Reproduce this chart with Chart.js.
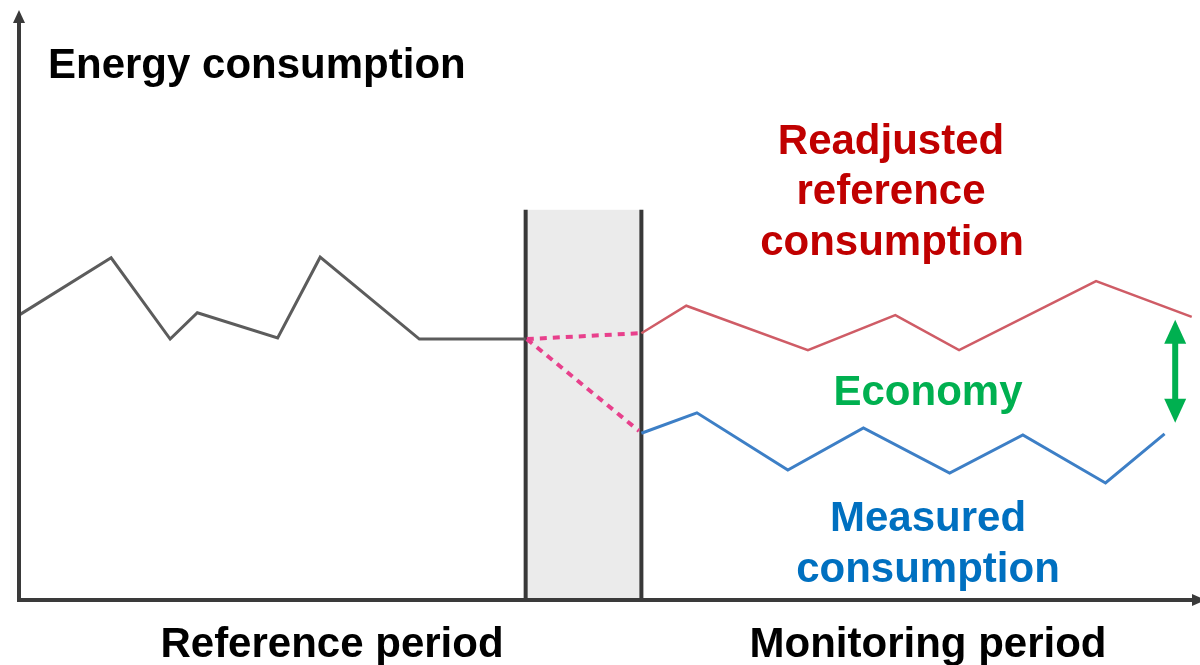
<!DOCTYPE html>
<html>
<head>
<meta charset="utf-8">
<script src="https://cdn.jsdelivr.net/npm/chart.js@4/dist/chart.umd.min.js"></script>
<style>
html,body{margin:0;padding:0;background:#fff;}
#wrap{position:relative;width:1200px;height:665px;}
</style>
</head>
<body>
<div id="wrap"><canvas id="c"></canvas></div>
<script>
// Time axis (0-100) and energy axis (0-100)
const refX  = [0, 7.8, 12.8, 15.1, 21.9, 25.5, 33.9, 42.9];
const refY  = [48.7, 58.5, 44.6, 49.1, 44.8, 58.6, 44.6, 44.6];
const adjX  = [52.7, 56.5, 66.8, 74.2, 79.6, 91.2, 99.3];
const adjY  = [45.6, 50.3, 42.7, 48.7, 42.7, 54.5, 48.4];
const measX = [52.7, 57.4, 65.1, 71.5, 78.8, 85.0, 92.0, 97.0];
const measY = [28.5, 32.0, 22.2, 29.4, 21.7, 28.2, 20.0, 28.4];
const trUpX = [43.0, 52.5], trUpY = [44.6, 45.6];
const trLoX = [43.0, 52.5], trLoY = [44.6, 28.9];
const band  = {from: 42.9, to: 52.7, top: 66.7};
const gap   = {x: 97.9, top: 47.9, bottom: 30.3};

const pts = (xs, ys) => xs.map((x, i) => ({x, y: ys[i]}));

const FONT = 'bold 42px "Liberation Sans", Arial, sans-serif';

const decor = {
  id: 'decor',
  beforeDatasetsDraw(chart) {
    const {ctx, scales: {x, y}} = chart;
    const x0 = x.getPixelForValue(band.from), x1 = x.getPixelForValue(band.to);
    const yt = y.getPixelForValue(band.top), yb = y.getPixelForValue(0);
    ctx.save();
    ctx.fillStyle = '#ebebeb';
    ctx.fillRect(x0, yt, x1 - x0, yb - yt);
    ctx.strokeStyle = '#383838';
    ctx.lineWidth = 4;
    ctx.beginPath();
    ctx.moveTo(x0, yt); ctx.lineTo(x0, yb);
    ctx.moveTo(x1, yt); ctx.lineTo(x1, yb);
    ctx.stroke();
    ctx.restore();
  },
  afterDatasetsDraw(chart) {
    const {ctx, scales: {x, y}} = chart;
    const ax = x.getPixelForValue(0), ay = y.getPixelForValue(0);
    const top = y.getPixelForValue(100), right = x.getPixelForValue(100);
    ctx.save();
    // axes
    ctx.strokeStyle = '#3a3a3a';
    ctx.fillStyle = '#3a3a3a';
    ctx.lineWidth = 4;
    ctx.beginPath();
    ctx.moveTo(ax, ay + 2); ctx.lineTo(ax, top + 6);
    ctx.moveTo(ax - 2, ay); ctx.lineTo(right - 6, ay);
    ctx.stroke();
    ctx.beginPath();
    ctx.moveTo(ax, top - 5); ctx.lineTo(ax - 6, top + 8); ctx.lineTo(ax + 6, top + 8); ctx.closePath();
    ctx.fill();
    ctx.beginPath();
    ctx.moveTo(right + 6, ay); ctx.lineTo(right - 8, ay - 6); ctx.lineTo(right - 8, ay + 6); ctx.closePath();
    ctx.fill();
    // green double arrow
    const gx = x.getPixelForValue(gap.x);
    const gt = y.getPixelForValue(gap.top), gb = y.getPixelForValue(gap.bottom);
    ctx.fillStyle = '#00b050';
    ctx.strokeStyle = '#00b050';
    ctx.lineWidth = 6;
    ctx.beginPath();
    ctx.moveTo(gx, gt + 15); ctx.lineTo(gx, gb - 15);
    ctx.stroke();
    ctx.beginPath();
    ctx.moveTo(gx, gt); ctx.lineTo(gx - 11, gt + 24); ctx.lineTo(gx + 11, gt + 24); ctx.closePath();
    ctx.fill();
    ctx.beginPath();
    ctx.moveTo(gx, gb); ctx.lineTo(gx - 11, gb - 24); ctx.lineTo(gx + 11, gb - 24); ctx.closePath();
    ctx.fill();
    ctx.restore();
  },
  afterDraw(chart) {
    const {ctx} = chart;
    ctx.save();
    ctx.font = FONT;
    ctx.textBaseline = 'alphabetic';
    const put = (t, px, py, c, align) => { ctx.fillStyle = c; ctx.textAlign = align || 'center'; ctx.fillText(t, px, py); };
    put('Energy consumption', 48, 78, '#000', 'left');
    put('Readjusted', 891, 154, '#c00000');
    put('reference', 891, 204, '#c00000');
    put('consumption', 892, 255, '#c00000');
    put('Economy', 928, 405, '#00b050');
    put('Measured', 928, 531, '#0070c0');
    put('consumption', 928, 582, '#0070c0');
    put('Reference period', 332, 657, '#000');
    put('Monitoring period', 928, 657, '#000');
    ctx.restore();
  }
};

new Chart(document.getElementById('c'), {
  type: 'line',
  data: {
    datasets: [
      {data: pts(refX, refY), borderColor: '#5c5c5c', borderWidth: 3},
      {data: pts(trUpX, trUpY), borderColor: '#e8408c', borderWidth: 4, borderDash: [7, 6]},
      {data: pts(trLoX, trLoY), borderColor: '#e8408c', borderWidth: 4, borderDash: [7, 6]},
      {data: pts(adjX, adjY), borderColor: '#cf5c66', borderWidth: 2.5},
      {data: pts(measX, measY), borderColor: '#3d7fc6', borderWidth: 3}
    ]
  },
  options: {
    responsive: true,
    maintainAspectRatio: false,
    animation: false,
    layout: {padding: {left: 19, top: 15, right: 0, bottom: 65}},
    elements: {point: {radius: 0}, line: {tension: 0, borderJoinStyle: 'miter'}},
    plugins: {legend: {display: false}, tooltip: {enabled: false}},
    scales: {
      x: {type: 'linear', min: 0, max: 100, display: false},
      y: {type: 'linear', min: 0, max: 100, display: false}
    }
  },
  plugins: [decor]
});
</script>
</body>
</html>
